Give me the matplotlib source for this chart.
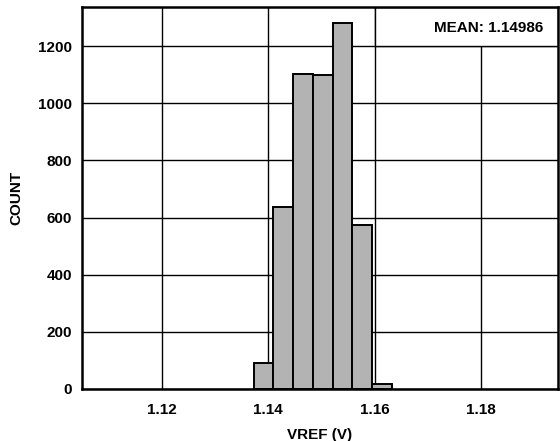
import matplotlib
matplotlib.use("Agg")
import matplotlib.pyplot as plt
from matplotlib.patches import Rectangle

plt.rcParams['font.family'] = ['Liberation Sans', 'DejaVu Sans']

bin_edges = [1.13726, 1.14097, 1.14469, 1.14840, 1.15211, 1.15583, 1.15954, 1.16325]
counts = [91, 636, 1103, 1099, 1282, 574, 19]
x_ticks = [1.12, 1.14, 1.16, 1.18]
y_ticks = [0, 200, 400, 600, 800, 1000, 1200]
mean_label = "MEAN: 1.14986"

FS = 11

fig = plt.figure(figsize=(5.6, 4.41), dpi=100)
ax = fig.add_axes([82/560, 1-389/441, (558-82)/560, (389-7)/441])

lefts = bin_edges[:-1]
widths = [b - a for a, b in zip(bin_edges[:-1], bin_edges[1:])]
ax.bar(lefts, counts, width=widths, align='edge', color='#b3b3b3',
       edgecolor='black', linewidth=1.4, zorder=3)

ax.set_xlim(1.105, 1.1945)
ax.set_ylim(0, 1337)
ax.set_xticks(x_ticks)
ax.set_xticklabels([f"{t:.2f}" for t in x_ticks])
ax.set_yticks(y_ticks)
ax.grid(True, color='black', linewidth=1.0, zorder=1)
ax.set_axisbelow(True)
ax.tick_params(axis='y', length=0, labelsize=FS, pad=7)
ax.tick_params(axis='x', length=0, labelsize=FS, pad=10)
for lbl in ax.get_xticklabels() + ax.get_yticklabels():
    lbl.set_fontweight('bold')
for s in ax.spines.values():
    s.set_linewidth(1.8)
    s.set_zorder(5)

ax.add_patch(Rectangle((1.16, 1200), 1.1945 - 1.16, 1337 - 1200, facecolor='white',
                       edgecolor='black', linewidth=1.0, zorder=2))
ax.text(0.9685, 0.946, mean_label, transform=ax.transAxes, ha='right', va='center',
        fontsize=FS, fontweight='bold', zorder=4)

ax.set_xlabel("VREF (V)", fontsize=FS, fontweight='bold', labelpad=8)
ax.set_ylabel("COUNT", fontsize=FS, fontweight='bold', labelpad=11)

fig.savefig("out.png", dpi=100)
